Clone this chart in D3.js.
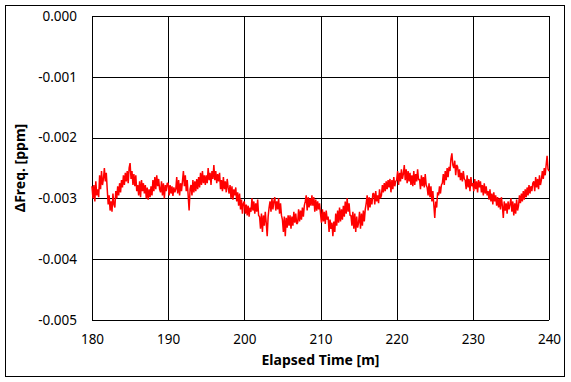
<!DOCTYPE html>
<html>
<head>
<meta charset="utf-8">
<script src="https://cdn.jsdelivr.net/npm/d3@7"></script>
<style>
  html, body { margin: 0; padding: 0; background: #fff; }
  svg { display: block; }
</style>
</head>
<body>
<div id="chart"></div>
<script>
// ---- data ----
const xTicks = [180, 190, 200, 210, 220, 230, 240];
const yTicks = [0, -0.001, -0.002, -0.003, -0.004, -0.005];
const yTickLabels = ["0.000", "-0.001", "-0.002", "-0.003", "-0.004", "-0.005"];
const xTitle = "Elapsed Time [m]";
const yTitle = "ΔFreq. [ppm]";
const startTime = 180;    // minutes
const timeStep = 0.125;   // minutes between samples
// ΔFreq [ppm], 8 samples per minute from 180 to 240 (one row per minute)
const freq = [
  -0.00280,-0.00300,-0.00278,-0.00305,-0.00272,-0.00295,-0.00285,-0.00298, // 180
  -0.00262,-0.00285,-0.00255,-0.00278,-0.00268,-0.00250,-0.00272,-0.00258, // 181
  -0.00285,-0.00310,-0.00295,-0.00320,-0.00305,-0.00322,-0.00292,-0.00310, // 182
  -0.00315,-0.00288,-0.00300,-0.00280,-0.00295,-0.00275,-0.00290,-0.00270, // 183
  -0.00282,-0.00262,-0.00278,-0.00258,-0.00272,-0.00255,-0.00275,-0.00250, // 184
  -0.00242,-0.00268,-0.00255,-0.00278,-0.00260,-0.00280,-0.00262,-0.00288, // 185
  -0.00278,-0.00295,-0.00272,-0.00298,-0.00270,-0.00288,-0.00275,-0.00292, // 186
  -0.00278,-0.00300,-0.00282,-0.00302,-0.00285,-0.00298,-0.00280,-0.00295, // 187
  -0.00270,-0.00288,-0.00265,-0.00285,-0.00262,-0.00280,-0.00268,-0.00285, // 188
  -0.00290,-0.00272,-0.00295,-0.00275,-0.00300,-0.00278,-0.00288,-0.00275, // 189
  -0.00275,-0.00295,-0.00278,-0.00292,-0.00280,-0.00296,-0.00282,-0.00290, // 190
  -0.00285,-0.00265,-0.00292,-0.00270,-0.00295,-0.00275,-0.00288,-0.00272, // 191
  -0.00255,-0.00280,-0.00262,-0.00288,-0.00270,-0.00295,-0.00320,-0.00285, // 192
  -0.00278,-0.00295,-0.00270,-0.00290,-0.00272,-0.00288,-0.00268,-0.00285, // 193
  -0.00265,-0.00282,-0.00258,-0.00278,-0.00255,-0.00275,-0.00262,-0.00278, // 194
  -0.00262,-0.00275,-0.00250,-0.00270,-0.00258,-0.00278,-0.00255,-0.00268, // 195
  -0.00245,-0.00270,-0.00255,-0.00275,-0.00260,-0.00272,-0.00258,-0.00285, // 196
  -0.00270,-0.00288,-0.00265,-0.00285,-0.00272,-0.00290,-0.00268,-0.00282, // 197
  -0.00292,-0.00278,-0.00300,-0.00280,-0.00302,-0.00285,-0.00295,-0.00282, // 198
  -0.00305,-0.00290,-0.00312,-0.00292,-0.00318,-0.00302,-0.00325,-0.00308, // 199
  -0.00305,-0.00325,-0.00310,-0.00328,-0.00312,-0.00330,-0.00315,-0.00322, // 200
  -0.00300,-0.00320,-0.00305,-0.00325,-0.00308,-0.00322,-0.00302,-0.00328, // 201
  -0.00330,-0.00350,-0.00325,-0.00355,-0.00328,-0.00345,-0.00322,-0.00340, // 202
  -0.00362,-0.00330,-0.00315,-0.00305,-0.00322,-0.00300,-0.00318,-0.00305, // 203
  -0.00298,-0.00320,-0.00305,-0.00318,-0.00300,-0.00325,-0.00308,-0.00328, // 204
  -0.00335,-0.00355,-0.00330,-0.00362,-0.00332,-0.00348,-0.00328,-0.00345, // 205
  -0.00328,-0.00350,-0.00330,-0.00345,-0.00322,-0.00340,-0.00325,-0.00342, // 206
  -0.00340,-0.00318,-0.00338,-0.00320,-0.00335,-0.00315,-0.00330,-0.00312, // 207
  -0.00305,-0.00295,-0.00320,-0.00298,-0.00315,-0.00300,-0.00312,-0.00295, // 208
  -0.00312,-0.00298,-0.00322,-0.00302,-0.00320,-0.00305,-0.00318,-0.00308, // 209
  -0.00325,-0.00340,-0.00318,-0.00338,-0.00322,-0.00342,-0.00320,-0.00335, // 210
  -0.00330,-0.00355,-0.00335,-0.00350,-0.00340,-0.00362,-0.00338,-0.00355, // 211
  -0.00325,-0.00345,-0.00320,-0.00340,-0.00315,-0.00338,-0.00318,-0.00335, // 212
  -0.00312,-0.00330,-0.00305,-0.00325,-0.00300,-0.00322,-0.00308,-0.00328, // 213
  -0.00328,-0.00345,-0.00322,-0.00350,-0.00325,-0.00355,-0.00330,-0.00348, // 214
  -0.00340,-0.00322,-0.00350,-0.00325,-0.00345,-0.00320,-0.00338,-0.00318, // 215
  -0.00308,-0.00295,-0.00320,-0.00298,-0.00315,-0.00300,-0.00310,-0.00292, // 216
  -0.00292,-0.00310,-0.00288,-0.00305,-0.00295,-0.00308,-0.00285,-0.00300, // 217
  -0.00295,-0.00278,-0.00290,-0.00275,-0.00288,-0.00272,-0.00285,-0.00270, // 218
  -0.00282,-0.00268,-0.00290,-0.00270,-0.00285,-0.00265,-0.00280,-0.00272, // 219
  -0.00270,-0.00255,-0.00278,-0.00258,-0.00272,-0.00252,-0.00268,-0.00260, // 220
  -0.00245,-0.00270,-0.00252,-0.00275,-0.00255,-0.00272,-0.00258,-0.00278, // 221
  -0.00262,-0.00280,-0.00255,-0.00278,-0.00260,-0.00272,-0.00252,-0.00270, // 222
  -0.00268,-0.00285,-0.00262,-0.00280,-0.00265,-0.00282,-0.00260,-0.00278, // 223
  -0.00282,-0.00295,-0.00275,-0.00298,-0.00280,-0.00305,-0.00288,-0.00310, // 224
  -0.00332,-0.00305,-0.00315,-0.00290,-0.00295,-0.00280,-0.00292,-0.00278, // 225
  -0.00275,-0.00260,-0.00278,-0.00255,-0.00270,-0.00250,-0.00265,-0.00248, // 226
  -0.00255,-0.00235,-0.00226,-0.00245,-0.00250,-0.00238,-0.00262,-0.00245, // 227
  -0.00248,-0.00265,-0.00252,-0.00270,-0.00258,-0.00272,-0.00255,-0.00268, // 228
  -0.00270,-0.00285,-0.00262,-0.00282,-0.00268,-0.00288,-0.00265,-0.00280, // 229
  -0.00275,-0.00288,-0.00268,-0.00285,-0.00272,-0.00290,-0.00270,-0.00282, // 230
  -0.00272,-0.00290,-0.00278,-0.00295,-0.00275,-0.00292,-0.00280,-0.00295, // 231
  -0.00288,-0.00302,-0.00285,-0.00305,-0.00292,-0.00310,-0.00290,-0.00305, // 232
  -0.00295,-0.00312,-0.00298,-0.00315,-0.00300,-0.00318,-0.00298,-0.00312, // 233
  -0.00332,-0.00305,-0.00320,-0.00308,-0.00325,-0.00305,-0.00318,-0.00310, // 234
  -0.00300,-0.00322,-0.00305,-0.00328,-0.00308,-0.00325,-0.00302,-0.00320, // 235
  -0.00312,-0.00295,-0.00308,-0.00292,-0.00305,-0.00288,-0.00302,-0.00285, // 236
  -0.00298,-0.00282,-0.00295,-0.00278,-0.00292,-0.00280,-0.00288,-0.00275, // 237
  -0.00272,-0.00288,-0.00265,-0.00282,-0.00268,-0.00285,-0.00262,-0.00278, // 238
  -0.00270,-0.00255,-0.00268,-0.00250,-0.00262,-0.00245,-0.00230,-0.00252, // 239
  -0.00255                                                                  // 240
];

// ---- layout ----
const W = 571, H = 382;
const margin = { left: 92, top: 16, right: 22, bottom: 62 };
const plotW = W - margin.left - margin.right;   // 457
const plotH = H - margin.top - margin.bottom;   // 304

const svg = d3.select("#chart").append("svg")
  .attr("width", W).attr("height", H);

svg.append("rect").attr("x", 0).attr("y", 0).attr("width", W).attr("height", H).attr("fill", "#fff");
svg.append("rect").attr("x", 5.5).attr("y", 5.5).attr("width", 559).attr("height", 371)
  .attr("fill", "none").attr("stroke", "#000").attr("stroke-width", 1);

const x = d3.scaleLinear().domain([180, 240]).range([margin.left, margin.left + plotW]);
const y = d3.scaleLinear().domain([-0.005, 0]).range([margin.top + plotH, margin.top]);

const font = "'Noto Sans', 'Open Sans', sans-serif";

// grid
const g = svg.append("g");
g.selectAll("line.vg").data(xTicks).join("line")
  .attr("x1", d => Math.round(x(d)) + 0.5).attr("x2", d => Math.round(x(d)) + 0.5)
  .attr("y1", margin.top).attr("y2", margin.top + plotH)
  .attr("stroke", "#000").attr("stroke-width", 1);
g.selectAll("line.hg").data(yTicks).join("line")
  .attr("y1", d => Math.round(y(d)) + 0.5).attr("y2", d => Math.round(y(d)) + 0.5)
  .attr("x1", margin.left).attr("x2", margin.left + plotW)
  .attr("stroke", "#000").attr("stroke-width", 1);

// data line
const line = d3.line()
  .x((d, i) => x(startTime + i * timeStep))
  .y(d => y(d));
svg.append("path").datum(freq)
  .attr("d", line)
  .attr("fill", "none").attr("stroke", "#ff0000").attr("stroke-width", 1.5)
  .attr("stroke-linejoin", "bevel");

// axes (labels only)
const xAxis = d3.axisBottom(x).tickValues(xTicks).tickSize(0).tickPadding(0).tickFormat(d3.format("d"));
const xa = svg.append("g").attr("transform", `translate(0,${margin.top + plotH + 14})`).call(xAxis);
xa.select(".domain").remove();
xa.selectAll("text").attr("font-family", font).attr("font-size", 13.5).attr("fill", "#000").attr("dy", "0.32em").attr("y", 6);

const yAxis = d3.axisLeft(y).tickValues(yTicks).tickSize(0).tickPadding(0)
  .tickFormat((d, i) => yTickLabels[i]);
const ya = svg.append("g").attr("transform", `translate(${margin.left - 15},0)`).call(yAxis);
ya.select(".domain").remove();
ya.selectAll("text").attr("font-family", font).attr("font-size", 13.5).attr("fill", "#000");

// titles
svg.append("text")
  .attr("x", margin.left + plotW / 2).attr("y", 365)
  .attr("text-anchor", "middle")
  .attr("font-family", font).attr("font-size", 14).attr("font-weight", "bold")
  .text(xTitle);
svg.append("text")
  .attr("transform", `translate(25,${margin.top + plotH / 2}) rotate(-90)`)
  .attr("text-anchor", "middle")
  .attr("font-family", font).attr("font-size", 14).attr("font-weight", "bold")
  .text(yTitle);
</script>
</body>
</html>
